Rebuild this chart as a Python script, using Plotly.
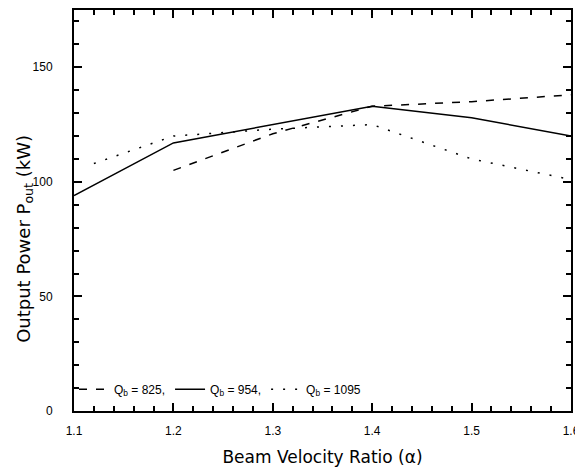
import plotly.graph_objects as go

x_825 = [1.2, 1.3, 1.4, 1.5, 1.6]
y_825 = [105, 121, 133, 135, 138]
x_954 = [1.1, 1.2, 1.4, 1.5, 1.6]
y_954 = [94, 117, 133, 128, 120]
x_1095 = [1.12, 1.2, 1.3, 1.4, 1.5, 1.6]
y_1095 = [108, 120, 123, 125, 110, 101]

names = ["Q<sub>b</sub> = 825,", "Q<sub>b</sub> = 954,", "Q<sub>b</sub> = 1095"]
x_title = "Beam Velocity Ratio (α)"
y_title = "Output Power P<sub>out</sub> (kW)"

fig = go.Figure()
fig.add_trace(go.Scatter(x=x_825, y=y_825, mode="lines", name=names[0],
                         line=dict(color="black", width=1.5, dash="8px,9px")))
fig.add_trace(go.Scatter(x=x_954, y=y_954, mode="lines", name=names[1],
                         line=dict(color="black", width=1.5, dash="solid")))
fig.add_trace(go.Scatter(x=x_1095, y=y_1095, mode="lines", name=names[2],
                         line=dict(color="black", width=1.5, dash="2px,10px")))

tickfont = dict(family="Arial, Liberation Sans", size=12, color="black")
xtitlefont = dict(family="DejaVu Sans", size=17, color="black")
ytitlefont = dict(family="DejaVu Sans", size=18, color="black")

# page body has an 8px default margin: size the figure to fill the rest of the window
fig.update_layout(
    width=575, height=464,
    paper_bgcolor="white", plot_bgcolor="white",
    margin=dict(l=66, r=12, t=0, b=61),
    font=dict(family="Arial, Liberation Sans", color="black"),
    xaxis=dict(range=[1.1, 1.6], tickmode="linear", tick0=1.1, dtick=0.1, tickformat=".1f",
               showgrid=False, zeroline=False, showline=True, linecolor="black", linewidth=2,
               mirror="ticks", ticks="inside", ticklen=8, tickwidth=1.5, tickcolor="black",
               tickfont=tickfont, ticklabelstandoff=8, ticklabeloverflow="allow",
               minor=dict(dtick=0.02, ticks="inside", ticklen=5, tickwidth=1.5,
                          tickcolor="black", showgrid=False),
               title=dict(text=x_title, font=xtitlefont, standoff=14)),
    yaxis=dict(range=[0, 175], tickmode="linear", tick0=0, dtick=50,
               showgrid=False, zeroline=False, showline=True, linecolor="black", linewidth=2,
               mirror="ticks", ticks="inside", ticklen=8, tickwidth=1.5, tickcolor="black",
               tickfont=tickfont, ticklabelstandoff=17, ticklabeloverflow="allow",
               minor=dict(dtick=10, ticks="inside", ticklen=5, tickwidth=1.5,
                          tickcolor="black", showgrid=False)),
    annotations=[dict(text=y_title, textangle=-90, xref="paper", yref="paper",
                      x=-0.1, y=0.43, xanchor="center", yanchor="middle",
                      showarrow=False, font=ytitlefont)],
    legend=dict(orientation="h", x=0.0, y=0.018, xanchor="left", yanchor="bottom",
                bgcolor="rgba(0,0,0,0)", font=dict(size=12), itemwidth=30, tracegroupgap=0),
    showlegend=True,
)

fig.write_html("out.html")
